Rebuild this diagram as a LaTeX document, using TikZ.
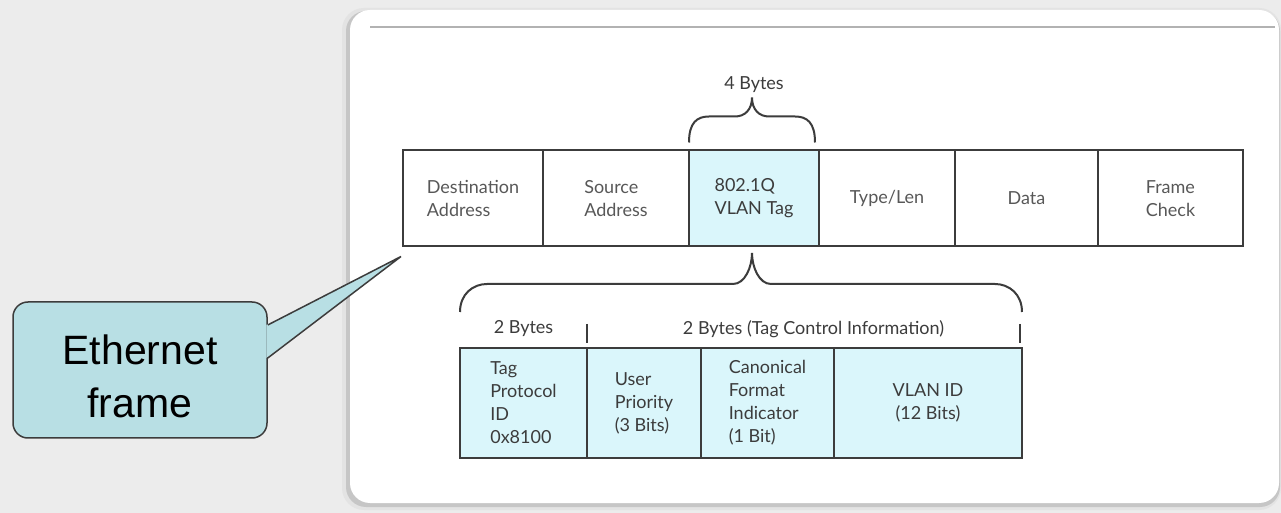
\documentclass[tikz,border=0pt]{standalone}
\usepackage{fontspec}
\setmainfont{Lato}
\newfontfamily\callfont{Liberation Sans}
\usetikzlibrary{positioning,calc}

\definecolor{bggray}{RGB}{236,236,236}
\definecolor{tagcyan}{RGB}{218,246,251}
\definecolor{callteal}{RGB}{184,223,228}
\definecolor{rulegray}{RGB}{60,60,60}
\definecolor{inkgray}{RGB}{88,88,88}

\begin{document}
\begin{tikzpicture}[
  x=0.5pt, y=-0.5pt,
  font=\fontsize{9}{11.5}\selectfont,
  cell/.style   ={draw=rulegray,line width=1pt,outer sep=0pt,inner sep=2pt,
                   minimum height=48pt,align=left,text=inkgray},
  tcicell/.style={cell,fill=tagcyan,minimum height=55pt,text=rulegray},
  lbl/.style    ={inner sep=0pt,text=rulegray},
  brace/.style  ={draw=rulegray,line width=1pt},
  tick/.style   ={draw=rulegray,line width=1pt},
  callout/.style={draw=rulegray,line width=0.75pt,fill=callteal,
                   rounded corners=7.5pt,minimum width=127pt,minimum height=68pt,
                   align=center,font=\callfont\fontsize{20.5}{26.5}\selectfont}]

% --- background and panel ---
\useasboundingbox (0,0) rectangle (1281,513);
\fill[bggray] (0,0) rectangle (1281,513);
\fill[gray!22,rounded corners=11pt] (342,8) rectangle (1281,510);
\fill[gray!45,rounded corners=10pt] (346,11) rectangle (1280,507);
\fill[white,rounded corners=10pt] (350,10) rectangle (1279,503);
\draw[gray!60,line width=1pt] (370,27) -- (1275,27);

% --- ethernet frame ---
\node[cell,minimum width=70pt,anchor=west] (dst) at (403,198.5) {Destination\\Address};
\node[cell,minimum width=73pt,right=0pt of dst] (src) {Source\\Address};
\node[cell,minimum width=65pt,right=0pt of src,fill=tagcyan,text=rulegray] (vlan) {802.1Q\\VLAN Tag};
\node[cell,minimum width=68pt,right=0pt of vlan] (tlen) {Type/Len};
\node[cell,minimum width=71.5pt,right=0pt of tlen] (data) {Data};
\node[cell,minimum width=72.5pt,right=0pt of data] (fcs) {Frame\\Check};

% --- 4 byte brace over the tag ---
\node[lbl] (four) at ($(vlan.north)+(0,-66)$) {4 Bytes};
\coordinate (tbL) at ($(vlan.north west)+(0,-8)$);
\draw[brace] (tbL) .. controls +(0,-20) and +(-12,0) .. ++(20,-26) -- ++(26,0)
  .. controls +(10,0) and +(0,12) .. ++(17,-19)
  .. controls +(0,12) and +(-10,0) .. ++(17,19) -- ++(26,0)
  .. controls +(12,0) and +(0,-20) .. ++(20,26);

% --- tag fields ---
\node[tcicell,minimum width=63.5pt,anchor=west] (tpid) at (460,403) {Tag\\Protocol\\ID\\0x8100};
\node[tcicell,minimum width=57pt,right=0pt of tpid] (upri) {User\\Priority\\(3 Bits)};
\node[tcicell,minimum width=66.5pt,right=0pt of upri] (cfi) {Canonical\\Format\\Indicator\\(1 Bit)};
\node[tcicell,minimum width=94pt,right=0pt of cfi,align=center] (vid) {VLAN ID\\(12 Bits)};

% --- brace from the tag down to its fields ---
\coordinate (lbL) at ($(tpid.north west)+(0,-36)$);
\draw[brace] (lbL) .. controls +(0,-18) and +(-14,0) .. ++(27,-28) -- ++(246,0)
  .. controls +(12,0) and +(0,14) .. ++(19,-31)
  .. controls +(0,14) and +(-12,0) .. ++(19,31) -- ++(224,0)
  .. controls +(14,0) and +(0,-18) .. ++(27,28);

\draw[tick] ($(tpid.north east)+(0,-24)$) -- ($(tpid.north east)+(0,-5)$);
\draw[tick] ($(vid.north east)+(-2,-24)$) -- ($(vid.north east)+(-2,-5)$);

\node[lbl] (b2)  at ($(tpid.north)+(0,-19)$) {2 Bytes};
\node[lbl] (tci) at ($(upri.north west)!0.5!(vid.north east)+(9,-19)$)
  {2 Bytes (Tag Control Information)};

% --- callout ---
\node[callout,text height=48pt] (eth) at (140,370) {Ethernet\\frame};
\coordinate (ethtip) at ($(dst.south west)+(-2,10)$);
\fill[callteal] ($(eth.east)+(-1.5,-45)$) -- (ethtip) -- ($(eth.east)+(-1.5,-12)$) -- cycle;
\draw[rulegray,line width=0.75pt] ($(eth.east)+(0,-45)$) -- (ethtip) -- ($(eth.east)+(0,-12)$);

\end{tikzpicture}
\end{document}
